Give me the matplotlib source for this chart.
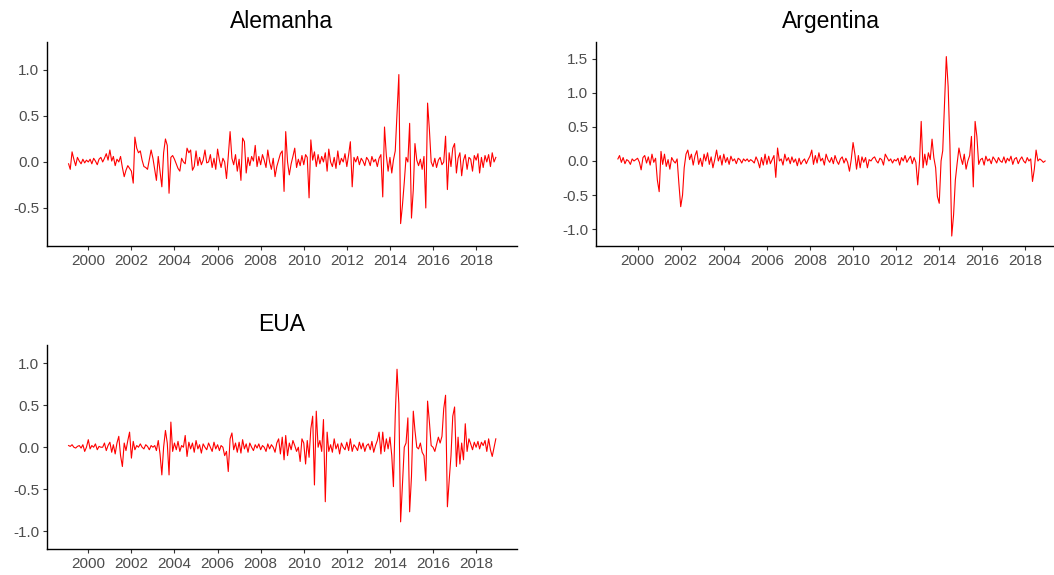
import matplotlib
matplotlib.use("Agg")
import matplotlib.pyplot as plt
import numpy as np
import pandas as pd

plt.rcParams['font.family'] = ['Liberation Sans', 'DejaVu Sans']

# Monthly series, Feb 1999 .. Dec 2018
dates = pd.date_range("1999-02-01", periods=239, freq="MS")

alemanha = (
    [-0.02, -0.08, 0.11, 0.03, -0.04, 0.05, 0.01, -0.02, 0.03, -0.01, 0.02] +
    [0.0, 0.03, -0.02, 0.04, 0.01, -0.03, 0.03, 0.05, 0.0, 0.04, 0.09, 0.02] +
    [0.13, 0.01, 0.06, -0.04, 0.03, 0.0, 0.06, -0.06, -0.16, -0.09, -0.04, -0.07] +
    [-0.1, -0.23, 0.27, 0.15, 0.1, 0.12, 0.02, -0.05, -0.06, -0.08, 0.03, 0.13] +
    [0.04, -0.09, -0.2, 0.06, -0.1, -0.27, 0.1, 0.25, 0.18, -0.34, 0.05, 0.07] +
    [0.03, -0.02, -0.07, -0.1, 0.04, 0.0, -0.02, 0.15, 0.1, 0.13, -0.09, -0.05] +
    [0.12, -0.04, 0.05, -0.03, 0.02, 0.13, -0.01, 0.0, 0.08, -0.06, 0.04, -0.08] +
    [0.14, 0.02, -0.06, 0.04, 0.0, -0.18, 0.06, 0.33, 0.04, -0.03, 0.08, -0.1] +
    [0.03, -0.2, 0.26, 0.22, -0.12, 0.05, -0.04, 0.06, 0.01, 0.18, -0.05, 0.06] +
    [-0.03, 0.08, 0.02, -0.06, 0.13, 0.0, -0.08, 0.04, -0.16, -0.05, 0.02, 0.09] +
    [0.12, -0.32, 0.33, 0.0, -0.14, -0.02, 0.06, 0.15, -0.06, 0.03, -0.04, 0.07] +
    [-0.03, 0.08, 0.05, -0.39, 0.24, 0.02, 0.11, -0.05, 0.08, -0.02, 0.06, 0.0] +
    [0.1, -0.1, 0.14, 0.0, -0.05, 0.05, -0.07, 0.12, -0.03, 0.04, 0.0, 0.09] +
    [-0.05, 0.08, 0.22, -0.27, 0.05, 0.0, 0.06, -0.03, 0.04, 0.01, -0.04, 0.05] +
    [0.02, -0.04, 0.06, 0.0, 0.03, -0.05, 0.04, 0.08, -0.38, 0.38, 0.07, -0.1] +
    [0.05, -0.12, 0.02, 0.12, 0.53, 0.95, -0.67, -0.47, -0.22, 0.05, 0.0, 0.42] +
    [-0.61, -0.3, 0.2, 0.02, -0.04, 0.03, -0.08, 0.06, -0.5, 0.64, 0.35, 0.0] +
    [-0.05, 0.04, -0.06, 0.02, 0.05, -0.03, 0.0, 0.28, -0.3, 0.1, -0.05, 0.15] +
    [0.2, -0.12, 0.04, 0.1, -0.15, 0.02, 0.08, -0.08, 0.05, 0.03, -0.1, 0.07] +
    [0.02, 0.09, -0.12, 0.05, -0.06, 0.07, 0.0, 0.08, -0.05, 0.1, 0.0, 0.05]
)

argentina = (
    [0.03, 0.08, -0.02, 0.05, -0.04, 0.02, 0.0, -0.05, 0.03, 0.0, 0.02] +
    [0.04, -0.02, -0.13, 0.05, 0.08, -0.03, 0.06, -0.06, 0.1, -0.02, 0.04, -0.28] +
    [-0.45, 0.14, -0.05, 0.1, -0.08, 0.02, -0.12, 0.05, 0.0, -0.03, 0.03, -0.33] +
    [-0.67, -0.5, -0.1, 0.1, 0.16, 0.02, 0.1, -0.06, 0.08, 0.15, -0.05, 0.04] +
    [-0.08, 0.1, 0.0, 0.12, -0.05, 0.06, -0.1, 0.02, 0.16, 0.0, 0.08, -0.06] +
    [0.1, -0.02, 0.05, -0.05, 0.07, 0.0, 0.03, -0.04, 0.04, 0.02, -0.03, 0.03] +
    [0.0, 0.03, -0.01, 0.02, 0.0, -0.03, 0.06, 0.0, -0.1, 0.05, -0.06, 0.1] +
    [-0.05, 0.07, -0.04, 0.02, 0.08, -0.24, 0.19, 0.0, 0.03, -0.06, 0.1, 0.0] +
    [0.05, -0.04, 0.06, -0.02, 0.03, -0.07, 0.04, -0.05, 0.0, 0.03, -0.04, 0.02] +
    [0.07, 0.16, -0.05, 0.08, -0.03, 0.12, 0.0, 0.04, -0.06, 0.1, 0.02, -0.02] +
    [0.05, -0.04, 0.08, 0.0, -0.05, 0.03, 0.06, -0.03, 0.04, -0.02, -0.15, 0.02] +
    [0.27, 0.1, -0.12, 0.08, -0.1, 0.06, -0.02, 0.05, -0.1, 0.02, 0.0, 0.04] +
    [0.06, 0.0, -0.03, 0.04, 0.02, -0.06, 0.1, 0.05, 0.0, 0.03, -0.03, 0.02] +
    [0.0, 0.04, -0.06, 0.05, 0.0, 0.08, -0.02, 0.03, 0.07, -0.04, 0.05, -0.02] +
    [-0.35, 0.0, 0.58, -0.1, 0.1, -0.06, 0.12, 0.02, 0.32, 0.05, -0.1, -0.52] +
    [-0.62, 0.0, 0.15, 0.85, 1.53, 1.09, 0.23, -1.1, -0.79, -0.28, -0.03, 0.19] +
    [0.05, -0.05, 0.1, -0.12, 0.0, 0.08, 0.36, -0.38, 0.58, 0.36, -0.05, 0.02] +
    [0.04, -0.06, 0.07, 0.0, 0.03, -0.04, 0.06, 0.02, -0.03, 0.05, 0.0, -0.02] +
    [0.06, -0.03, 0.04, 0.0, 0.07, -0.05, 0.03, 0.05, -0.04, 0.02, 0.06, 0.0] +
    [-0.03, 0.05, 0.0, 0.03, -0.3, -0.12, 0.16, 0.0, 0.03, 0.01, -0.02, 0.0]
)

eua = (
    [0.02, 0.01, 0.03, 0.0, -0.01, 0.01, 0.02, -0.01, 0.03, -0.05, 0.0] +
    [0.09, -0.02, 0.02, 0.0, 0.04, -0.03, 0.01, 0.0, 0.0, 0.05, -0.04, 0.02] +
    [0.06, -0.06, 0.03, -0.08, 0.05, 0.13, -0.1, -0.23, 0.05, -0.04, 0.08, 0.18] +
    [-0.13, 0.07, -0.03, 0.02, 0.0, 0.04, 0.0, -0.02, 0.03, 0.01, -0.03, 0.02] +
    [0.0, 0.02, -0.04, 0.08, -0.08, -0.33, 0.0, 0.2, 0.05, -0.33, 0.3, -0.05] +
    [0.05, -0.03, 0.07, -0.05, 0.02, 0.0, 0.14, -0.11, 0.06, -0.02, 0.05, -0.06] +
    [0.08, -0.02, 0.03, -0.07, 0.04, 0.0, -0.03, 0.05, 0.0, -0.05, 0.06, -0.02] +
    [0.03, -0.04, 0.02, 0.0, -0.1, -0.05, -0.29, 0.1, 0.17, -0.03, 0.05, -0.06] +
    [0.06, -0.07, 0.09, -0.02, 0.04, -0.06, 0.05, 0.0, -0.04, 0.03, -0.01, 0.04] +
    [-0.03, 0.02, 0.0, -0.05, 0.04, -0.02, 0.03, 0.0, -0.06, 0.05, 0.1, -0.08] +
    [0.12, -0.15, 0.14, -0.1, 0.05, -0.03, 0.08, 0.02, -0.05, 0.0, -0.17, 0.1] +
    [0.05, -0.2, 0.08, -0.12, 0.22, 0.37, -0.45, 0.43, 0.0, 0.08, -0.05, 0.33] +
    [-0.65, 0.18, -0.05, 0.03, -0.06, 0.1, -0.02, 0.04, -0.08, 0.05, 0.0, -0.03] +
    [0.06, -0.04, 0.1, -0.05, 0.03, 0.0, -0.04, 0.06, -0.02, 0.05, -0.05, 0.02] +
    [0.04, -0.03, 0.07, -0.06, 0.02, 0.08, 0.18, -0.08, 0.18, -0.05, 0.1, -0.02] +
    [0.12, -0.1, -0.47, 0.38, 0.93, 0.52, -0.89, -0.45, 0.0, 0.05, 0.35, -0.77] +
    [-0.35, 0.43, 0.2, 0.0, -0.02, 0.05, -0.06, -0.1, -0.4, 0.55, 0.3, 0.02] +
    [0.0, -0.05, 0.03, 0.12, 0.05, 0.13, 0.46, 0.62, -0.71, -0.4, -0.1, 0.37] +
    [0.48, -0.23, 0.12, -0.2, 0.05, -0.15, 0.28, -0.05, 0.1, 0.04, -0.03, 0.06] +
    [0.0, 0.07, -0.02, 0.06, 0.02, 0.08, -0.05, 0.1, -0.03, -0.11, 0.0, 0.1]
)

titles = ["Alemanha", "Argentina", "EUA"]
series = [alemanha, argentina, eua]
tick_years = list(range(2000, 2019, 2))

W, H = 1054, 575
fig = plt.figure(figsize=(W / 100, H / 100), dpi=100)

# panel boxes in pixels: left, top, right, bottom
boxes = [(47, 42, 516.7, 245.6), (596.3, 41.7, 1066.0, 246.0), (47, 345, 516.7, 548.7)]
ylims = [(-0.909, 1.304), (-1.246, 1.748), (-1.21, 1.219)]
yticks = [[-0.5, 0.0, 0.5, 1.0], [-1.0, -0.5, 0.0, 0.5, 1.0, 1.5], [-1.0, -0.5, 0.0, 0.5, 1.0]]

xl = (pd.Timestamp("1998-01-31"), pd.Timestamp("2019-11-20"))

for title, vals, box, yl, yt in zip(titles, series, boxes, ylims, yticks):
    l, t, r, b = box
    ax = fig.add_axes([l / W, 1 - b / H, (r - l) / W, (b - t) / H])
    ax.plot(dates, vals, color="#FF0000", lw=0.8)
    ax.set_xlim(xl)
    ax.set_ylim(yl)
    ax.set_yticks(yt)
    ax.set_yticklabels([f"{v:.1f}" for v in yt])
    ax.set_xticks([pd.Timestamp(f"{y}-01-01") for y in tick_years])
    ax.set_xticklabels([str(y) for y in tick_years])
    for s in ["top", "right"]:
        ax.spines[s].set_visible(False)
    for s in ["left", "bottom"]:
        ax.spines[s].set_color("black")
        ax.spines[s].set_linewidth(1.0)
    ax.tick_params(axis="both", colors="#333333", length=3.2, width=0.8,
                   labelsize=11, labelcolor="#4D4D4D", pad=2.5)
    ax.set_facecolor("white")
    ax.text(0.5, 1 + 14 / (b - t), title, transform=ax.transAxes,
            ha="center", va="baseline", fontsize=16.5, color="black")

fig.savefig("out.png", dpi=100, facecolor="white")
